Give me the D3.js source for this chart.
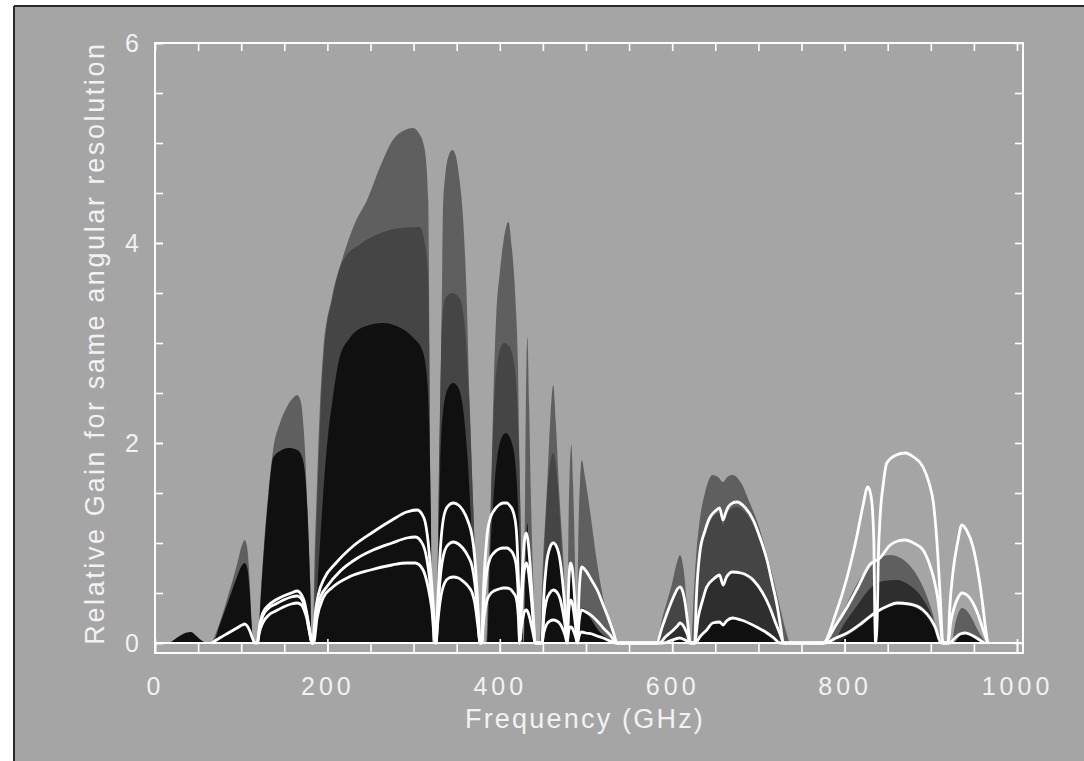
<!DOCTYPE html>
<html>
<head>
<meta charset="utf-8">
<script src="https://cdn.jsdelivr.net/npm/d3@7"></script>
<style>
  html, body { margin: 0; padding: 0; background: #ffffff; }
  svg { display: block; }
  text { font-family: "Liberation Sans", Arial, sans-serif; fill: #f2f2f2; }
</style>
</head>
<body>
<svg id="chart" width="1084" height="761"></svg>
<script>
// ---------------- DATA ----------------
const xTickLabels = [0, 200, 400, 600, 800, 1000];
const yTickLabels = [0, 2, 4, 6];
const xAxisTitle = "Frequency (GHz)";
const yAxisTitle = "Relative Gain for same angular resolution";

// Shaded envelopes, [frequency GHz, relative gain], outermost (lightest) first
const shade1 = [
  [66,0],[75,0.2],[85,0.48],[95,0.78],[101,0.98],[104,1.03],[107,0.95],[110,0.6],[112,0.25],[114,0],
  [119,0],[123,0.55],[127,1.05],[132,1.55],[137,1.93],[145,2.2],[153,2.36],[160,2.45],[165,2.48],[169,2.42],[172,2.2],[174,1.93],[177,1.3],[180,0.6],[182,0],
  [183,0],[185,0.8],[188,1.6],[191,2.3],[195,2.9],[205,3.45],[218,3.86],[232,4.2],[246,4.43],[262,4.78],[276,5.03],[290,5.13],[299,5.15],[306,5.1],[313,4.93],[317,4.43],[318,3.5],[319,2.0],[320,0.8],[322,0],
  [326,0],[328,0.8],[330,1.8],[331,2.43],[333,3.6],[334,4.3],[337,4.7],[341,4.88],[345,4.93],[349,4.87],[353,4.65],[357,4.3],[361,3.6],[365,2.43],[369,1.4],[373,0.5],[376,0],
  [384,0],[387,0.7],[390,1.5],[393,2.6],[396,3.3],[400,3.7],[404,4.0],[410,4.21],[414,3.95],[418,3.46],[421,2.8],[423,1.8],[425,0.8],[427,0],
  [427.5,0],[429,1.2],[430,2.2],[432,3.06],[434,2.4],[436,1.5],[439,0.6],[442,0],
  [446,0],[450,0.8],[455,1.6],[459,2.3],[462,2.58],[465,2.2],[469,1.5],[474,0.8],[478,0],
  [478.5,0],[479.5,1.0],[481,1.7],[483,1.98],[485,1.6],[487,0.9],[489,0],
  [489.5,0],[491,1.0],[493,1.6],[495,1.83],[499,1.65],[505,1.3],[512,0.85],[520,0.45],[528,0.2],[536,0],
  [580,0],[590,0.3],[600,0.6],[606,0.82],[609,0.88],[613,0.75],[617,0.4],[621,0],
  [622,0],[625,0.5],[628,0.9],[632,1.23],[638,1.5],[647,1.68],[653,1.66],[659,1.61],[664,1.66],[670,1.68],[680,1.6],[690,1.4],[698,1.23],[708,0.95],[718,0.62],[725,0.36],[732,0.12],[737,0],
  [777,0],[790,0.18],[803,0.4],[815,0.6],[829,0.78],[840,0.85],[853,0.88],[865,0.85],[878,0.75],[891,0.56],[902,0.3],[911,0],
  [924,0],[928,0.18],[932,0.3],[936,0.35],[941,0.33],[948,0.24],[955,0.12],[961,0.04],[964,0]
];
const shade2 = [
  [184,0],[186,0.8],[189,1.6],[192,2.3],[196,2.9],[206,3.45],[218,3.82],[240,4.0],[262,4.1],[285,4.15],[307,4.16],[313,4.0],[317,3.6],[318,3.0],[319,1.8],[320,0.8],[322,0],
  [327,0],[329,1.5],[331,2.5],[333,3.2],[337,3.45],[345,3.5],[353,3.45],[359,3.2],[364,2.5],[369,1.4],[373,0.5],[376,0],
  [385,0],[389,1.2],[393,2.3],[398,2.85],[405,3.0],[412,2.95],[418,2.7],[422,2.0],[425,0.8],[427,0],
  [447,0],[452,1.0],[457,1.7],[462,1.9],[467,1.6],[472,0.9],[477,0],
  [582,0],[588,0.14],[595,0.3],[602,0.45],[606,0.52],[609,0.54],[612,0.5],[615,0.38],[618,0.18],[621,0],
  [624,0],[627,0.45],[631,0.85],[637,1.08],[644,1.22],[650,1.28],[655,1.3],[659,1.18],[662,1.25],[665,1.31],[670,1.35],[675,1.36],[684,1.31],[694,1.18],[702,1.0],[710,0.78],[716,0.56],[722,0.33],[726,0.13],[729,0]
];
const shade3 = [
  [585,0],[592,0.06],[600,0.12],[606,0.17],[609,0.2],[613,0.17],[617,0.1],[621,0],
  [626,0],[632,0.3],[640,0.52],[650,0.66],[659,0.6],[668,0.7],[680,0.68],[694,0.6],[705,0.48],[715,0.3],[724,0.1],[729,0],
  [785,0],[800,0.2],[815,0.38],[830,0.55],[845,0.62],[860,0.63],[875,0.58],[890,0.45],[902,0.25],[910,0]
];
const shade4 = [
  [17,0],[25,0.05],[35,0.1],[42,0.11],[48,0.07],[55,0.02],[60,0],
  [67,0],[75,0.18],[85,0.42],[95,0.66],[101,0.78],[104,0.8],[107,0.75],[110,0.5],[112,0.2],[114,0],
  [119,0],[123,0.5],[127,1.0],[132,1.5],[137,1.85],[145,1.92],[155,1.95],[165,1.93],[171,1.85],[174,1.7],[177,1.3],[180,0.6],[182,0],
  [184,0],[190,0.8],[196,1.6],[201,2.1],[206,2.43],[214,2.85],[226,3.05],[245,3.17],[264,3.2],[285,3.15],[300,3.05],[310,2.93],[315,2.7],[318,2.2],[320,1.3],[322,0],
  [327,0],[329,1.0],[331,1.8],[334,2.3],[340,2.55],[346,2.6],[352,2.55],[358,2.3],[363,1.8],[368,1.0],[373,0.3],[376,0],
  [385,0],[389,0.9],[394,1.6],[400,2.0],[407,2.1],[414,2.0],[419,1.7],[423,1.0],[426,0.3],[427,0],
  [428,0],[430,0.8],[432,1.2],[434,0.9],[437,0.4],[440,0],
  [449,0],[453,0.6],[458,0.9],[462,1.0],[467,0.9],[472,0.6],[477,0],
  [479,0],[481,0.6],[483,0.75],[485,0.6],[488,0],
  [490,0],[493,0.3],[496,0.35],[505,0.25],[515,0.12],[525,0.05],[534,0],
  [592,0],[600,0.04],[608,0.07],[614,0.05],[619,0],
  [628,0],[635,0.08],[645,0.18],[652,0.22],[659,0.18],[668,0.24],[680,0.22],[695,0.16],[710,0.08],[722,0],
  [790,0],[805,0.08],[820,0.17],[835,0.28],[850,0.35],[865,0.38],[880,0.36],[893,0.28],[903,0.15],[910,0],
  [926,0],[935,0.08],[940,0.1],[948,0.07],[958,0]
];

// White curves
const whiteHigh = [
  [66,0],[75,0.05],[85,0.1],[95,0.15],[101,0.18],[104,0.19],[107,0.17],[110,0.12],[113,0.05],[116,0],
  [119,0],[121,0.15],[125,0.3],[132,0.38],[140,0.43],[149,0.47],[158,0.5],[165,0.52],[170,0.48],[173,0.42],[176,0.3],[178,0.2],[180,0.1],[182,0],
  [183,0],[186,0.3],[190,0.5],[196,0.64],[210,0.8],[230,0.97],[253,1.11],[275,1.23],[292,1.31],[304,1.33],[312,1.25],[317,1.0],[320,0.7],[323,0.35],[326,0],
  [328,0.4],[331,0.93],[336,1.3],[341,1.38],[346,1.40],[352,1.38],[357,1.33],[363,1.22],[368,1.06],[371,0.85],[373,0.6],[375,0.3],[377,0],
  [379,0],[381,0.5],[385,1.06],[389,1.25],[393,1.32],[399,1.38],[404,1.40],[408,1.40],[412,1.37],[416,1.3],[419,1.15],[421,0.8],[422,0.5],[423,0],
  [425,0.5],[427,0.85],[429,1.05],[431,1.10],[433,1.0],[435,0.8],[437,0.55],[439,0.25],[441,0],
  [449,0],[451,0.45],[454,0.78],[458,0.95],[462,1.0],[466,0.96],[470,0.82],[473,0.6],[476,0.3],[478,0],
  [480,0.6],[482,0.8],[484,0.75],[486,0.55],[488,0.3],[490,0],
  [492,0.5],[495,0.76],[500,0.72],[507,0.62],[513,0.53],[520,0.38],[528,0.2],[532,0.1],[536,0],
  [582,0],[588,0.15],[595,0.32],[602,0.47],[606,0.54],[609,0.56],[612,0.52],[615,0.4],[618,0.2],[621,0],
  [626,0],[628,0.45],[632,0.9],[638,1.12],[644,1.26],[650,1.32],[655,1.35],[659,1.23],[662,1.3],[665,1.36],[670,1.4],[675,1.41],[684,1.36],[694,1.23],[702,1.05],[710,0.83],[716,0.6],[722,0.36],[726,0.15],[729,0],
  [775,0],[790,0.3],[803,0.66],[815,1.1],[821,1.36],[827,1.56],[831,1.45],[834,1.0],[835,0.3],[836,0],[838,0.3],[839,0.8],[841,1.23],[845,1.6],[849,1.8],[860,1.88],[870,1.9],[880,1.86],[891,1.76],[898,1.6],[903,1.4],[908,0.9],[911,0.45],[914,0],
  [920,0],[922,0.35],[926,0.73],[931,1.0],[936,1.18],[942,1.12],[949,0.96],[955,0.7],[960,0.4],[963,0.18],[966,0]
];
const whiteMid = [
  [119,0],[121,0.13],[125,0.27],[132,0.35],[140,0.39],[149,0.43],[158,0.46],[165,0.47],[170,0.44],[173,0.38],[176,0.28],[178,0.18],[180,0.08],[182,0],
  [183,0],[187,0.3],[192,0.46],[200,0.57],[215,0.72],[235,0.85],[253,0.93],[275,1.0],[292,1.05],[302,1.06],[311,0.98],[317,0.75],[321,0.45],[326,0],
  [328,0.3],[331,0.66],[336,0.92],[341,0.99],[346,1.01],[352,0.99],[357,0.95],[363,0.87],[368,0.76],[371,0.6],[373,0.43],[375,0.2],[377,0],
  [379,0],[381,0.35],[385,0.72],[389,0.85],[393,0.9],[399,0.94],[404,0.95],[408,0.95],[412,0.93],[416,0.88],[419,0.78],[421,0.55],[422,0.35],[423,0],
  [425,0.35],[427,0.62],[429,0.76],[431,0.8],[433,0.73],[435,0.58],[437,0.4],[439,0.18],[441,0],
  [449,0],[451,0.25],[454,0.42],[458,0.5],[462,0.53],[466,0.51],[470,0.44],[473,0.32],[476,0.16],[478,0],
  [480,0.32],[482,0.43],[484,0.4],[486,0.3],[488,0.16],[490,0],
  [492,0.22],[495,0.33],[500,0.31],[507,0.27],[513,0.22],[520,0.15],[528,0.08],[536,0],
  [585,0],[592,0.06],[600,0.12],[606,0.17],[609,0.2],[613,0.17],[617,0.1],[621,0],
  [626,0],[630,0.25],[635,0.42],[640,0.56],[648,0.64],[655,0.68],[659,0.58],[663,0.66],[670,0.71],[680,0.7],[694,0.63],[705,0.5],[713,0.36],[720,0.2],[726,0.07],[729,0],
  [775,0],[790,0.18],[803,0.36],[815,0.55],[829,0.78],[841,0.85],[853,0.98],[862,1.02],[870,1.03],[880,1.0],[891,0.93],[898,0.8],[903,0.66],[908,0.45],[911,0.23],[914,0],
  [920,0],[923,0.2],[927,0.35],[932,0.46],[936,0.5],[942,0.48],[949,0.4],[955,0.28],[960,0.15],[966,0]
];
const whiteLow = [
  [119,0],[121,0.1],[125,0.2],[132,0.28],[140,0.32],[149,0.36],[158,0.39],[165,0.4],[170,0.38],[173,0.33],[176,0.25],[178,0.16],[180,0.07],[182,0],
  [184,0],[188,0.25],[195,0.45],[205,0.55],[225,0.66],[250,0.73],[275,0.78],[292,0.8],[302,0.8],[311,0.73],[317,0.55],[321,0.35],[325,0],
  [326,0],[328,0.2],[331,0.43],[336,0.6],[341,0.65],[346,0.66],[352,0.65],[357,0.62],[363,0.57],[368,0.5],[371,0.4],[373,0.28],[375,0.14],[377,0],
  [379,0],[381,0.2],[385,0.42],[389,0.49],[393,0.52],[399,0.54],[404,0.55],[408,0.55],[412,0.54],[416,0.5],[419,0.45],[421,0.32],[422,0.2],[423,0],
  [425,0.15],[427,0.26],[429,0.32],[431,0.33],[433,0.3],[435,0.24],[437,0.16],[439,0.08],[441,0],
  [449,0],[451,0.1],[454,0.18],[458,0.22],[462,0.23],[466,0.22],[470,0.19],[473,0.14],[476,0.07],[478,0],
  [480,0.12],[482,0.16],[484,0.15],[486,0.11],[488,0.06],[490,0],
  [492,0.07],[495,0.11],[500,0.1],[507,0.09],[513,0.07],[520,0.05],[528,0.02],[536,0],
  [590,0],[600,0.03],[609,0.05],[615,0.03],[621,0],
  [627,0],[632,0.06],[640,0.13],[647,0.2],[655,0.21],[659,0.18],[663,0.22],[670,0.25],[680,0.23],[698,0.16],[710,0.1],[718,0.05],[725,0],
  [777,0],[790,0.05],[803,0.1],[820,0.2],[835,0.3],[850,0.37],[861,0.4],[875,0.39],[891,0.33],[900,0.24],[905,0.16],[912,0],
  [922,0],[928,0.05],[934,0.09],[940,0.1],[947,0.08],[955,0.04],[962,0]
];

const shadeSeries = [shade1, shade2, shade3, shade4];
const shadeColors = ["#5f5f5f", "#454545", "#2e2e2e", "#101010"];
const whiteSeries = [whiteHigh, whiteMid, whiteLow];

// ---------------- DRAW ----------------
const svg = d3.select("#chart");
const W = 1084, H = 761;
const pLeft = 155, pRight = 1023, pTop = 43, pBottom = 653;

const x = d3.scaleLinear().domain([0, 1000]).range([155, 1017]);
const y = d3.scaleLinear().domain([0, 6]).range([643, 43]);

// page background (scanned sheet)
svg.append("rect").attr("x", 0).attr("y", 0).attr("width", W).attr("height", H).attr("fill", "#ffffff");
svg.append("rect").attr("x", 14).attr("y", 6).attr("width", W - 14).attr("height", H - 6).attr("fill", "#a5a5a5");
svg.append("line").attr("x1", 14).attr("x2", W).attr("y1", 6).attr("y2", 6).attr("stroke", "#2a2a2a").attr("stroke-width", 2);
svg.append("line").attr("x1", 14).attr("x2", 14).attr("y1", 6).attr("y2", H).attr("stroke", "#2a2a2a").attr("stroke-width", 2);

svg.append("clipPath").attr("id", "plotclip")
  .append("rect").attr("x", pLeft).attr("y", pTop).attr("width", pRight - pLeft).attr("height", pBottom - pTop);

const plot = svg.append("g").attr("clip-path", "url(#plotclip)");

const area = d3.area()
  .x(d => x(d[0]))
  .y0(y(0))
  .y1(d => y(d[1]))
  .curve(d3.curveMonotoneX);

shadeSeries.forEach((s, i) => {
  plot.append("path").datum(s).attr("d", area).attr("fill", shadeColors[i]);
});

const line = d3.line()
  .x(d => x(d[0]))
  .y(d => y(d[1]))
  .curve(d3.curveMonotoneX);

whiteSeries.forEach(s => {
  plot.append("path").datum(s).attr("d", line)
    .attr("fill", "none").attr("stroke", "#ffffff").attr("stroke-width", 2.8)
    .attr("stroke-linejoin", "round");
});

// frame
svg.append("rect").attr("x", pLeft).attr("y", pTop).attr("width", pRight - pLeft).attr("height", pBottom - pTop)
  .attr("fill", "none").attr("stroke", "#ffffff").attr("stroke-width", 2);
svg.append("line").attr("x1", pLeft).attr("x2", pRight).attr("y1", y(0)).attr("y2", y(0))
  .attr("stroke", "#ffffff").attr("stroke-width", 2);

function styleAxis(g) {
  g.select(".domain").remove();
  g.selectAll(".tick line").attr("stroke", "#ffffff").attr("stroke-width", 1.6);
}

const minorX = d3.range(0, 1001, 50);
const minorY = d3.range(0, 6.01, 0.5);

svg.append("g").attr("transform", `translate(0,${pBottom})`)
  .call(d3.axisBottom(x).tickValues(minorX).tickSizeInner(-9).tickSizeOuter(0).tickFormat(""))
  .call(styleAxis);
const xLab = svg.append("g").attr("transform", `translate(0,${pBottom})`)
  .call(d3.axisBottom(x).tickValues(xTickLabels).tickSizeInner(-14).tickSizeOuter(0).tickPadding(24).tickFormat(d3.format("d")))
  .call(styleAxis);
xLab.selectAll("text").attr("font-size", 25).attr("letter-spacing", "4px")
  .attr("font-family", "Liberation Sans, Arial, sans-serif").attr("fill", "#f2f2f2");

svg.append("g").attr("transform", `translate(0,${pTop})`)
  .call(d3.axisTop(x).tickValues(minorX).tickSizeInner(-8).tickSizeOuter(0).tickFormat(""))
  .call(styleAxis);

svg.append("g").attr("transform", `translate(${pLeft},0)`)
  .call(d3.axisLeft(y).tickValues(minorY).tickSizeInner(-8).tickSizeOuter(0).tickFormat(""))
  .call(styleAxis);
const yLab = svg.append("g").attr("transform", `translate(${pLeft},0)`)
  .call(d3.axisLeft(y).tickValues(yTickLabels).tickSizeInner(-8).tickSizeOuter(0).tickPadding(16).tickFormat(d3.format("d")))
  .call(styleAxis);
yLab.selectAll("text").attr("font-size", 25)
  .attr("font-family", "Liberation Sans, Arial, sans-serif").attr("fill", "#f2f2f2");

svg.append("g").attr("transform", `translate(${pRight},0)`)
  .call(d3.axisRight(y).tickValues(minorY).tickSizeInner(-8).tickSizeOuter(0).tickFormat(""))
  .call(styleAxis);

svg.append("text").attr("x", 585).attr("y", 728).attr("text-anchor", "middle")
  .attr("font-size", 27).attr("letter-spacing", "2.2px").text(xAxisTitle);
svg.append("text").attr("transform", "translate(104,343) rotate(-90)").attr("text-anchor", "middle")
  .attr("font-size", 27).attr("letter-spacing", "2.6px").text(yAxisTitle);
</script>
</body>
</html>
